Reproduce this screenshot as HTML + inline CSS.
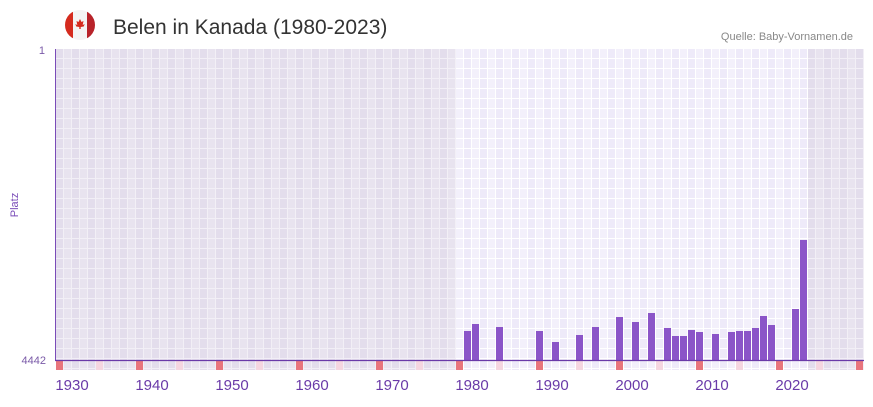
<!DOCTYPE html>
<html><head><meta charset="utf-8"><style>
body{margin:0;background:#fff;width:873px;height:402px;overflow:hidden;font-family:"Liberation Sans",sans-serif}
</style></head><body>
<svg width="873" height="402" xmlns="http://www.w3.org/2000/svg" font-family="Liberation Sans, sans-serif">
<defs>
<pattern id="pd" x="56" y="49" width="16" height="10" patternUnits="userSpaceOnUse">
<rect width="8" height="10" fill="#e3ddec"/><rect x="8" width="8" height="10" fill="#e8e3ef"/>
<rect x="7" width="1" height="10" fill="#f2eff6"/><rect x="15" width="1" height="10" fill="#f2eff6"/>
<rect y="9" width="16" height="1" fill="#f2eff6"/></pattern>
<pattern id="pl" x="56" y="49" width="16" height="10" patternUnits="userSpaceOnUse">
<rect width="8" height="10" fill="#f3f0fb"/><rect x="8" width="8" height="10" fill="#eeeaf9"/>
<rect x="7" width="1" height="10" fill="#fff"/><rect x="15" width="1" height="10" fill="#fff"/>
<rect y="9" width="16" height="1" fill="#fff"/></pattern>
<clipPath id="fc"><circle cx="80" cy="25" r="15"/></clipPath>
</defs>
<g clip-path="url(#fc)">
<rect x="65" y="10" width="30" height="30" fill="#f4f4f4"/>
<rect x="65" y="10" width="8" height="30" fill="#d52b1e"/>
<rect x="87" y="10" width="8" height="30" fill="#b8232a"/>
</g>
<path d="M80,19 l1.5,3 2,-1 -0.8,4 2,-1 -1,2.5 -3,0.5 v2 h-1.4 v-2 l-3,-0.5 -1,-2.5 2,1 -0.8,-4 2,1z" fill="#d52b1e"/>
<text x="113" y="34" font-size="21" fill="#333">Belen in Kanada (1980-2023)</text>
<text x="853" y="40" font-size="11" fill="#888" text-anchor="end">Quelle: Baby-Vornamen.de</text>
<rect x="56" y="49" width="808" height="321" fill="url(#pd)"/>
<rect x="456" y="49" width="352" height="321" fill="url(#pl)"/>
<g fill="#e8757d">
<rect x="56" y="361" width="7" height="9"/><rect x="136" y="361" width="7" height="9"/><rect x="216" y="361" width="7" height="9"/><rect x="296" y="361" width="7" height="9"/><rect x="376" y="361" width="7" height="9"/><rect x="456" y="361" width="7" height="9"/><rect x="536" y="361" width="7" height="9"/><rect x="616" y="361" width="7" height="9"/><rect x="696" y="361" width="7" height="9"/><rect x="776" y="361" width="7" height="9"/><rect x="856" y="361" width="7" height="9"/></g>
<g fill="#f5d6e0">
<rect x="96" y="361" width="7" height="9"/><rect x="176" y="361" width="7" height="9"/><rect x="256" y="361" width="7" height="9"/><rect x="336" y="361" width="7" height="9"/><rect x="416" y="361" width="7" height="9"/><rect x="496" y="361" width="7" height="9"/><rect x="576" y="361" width="7" height="9"/><rect x="656" y="361" width="7" height="9"/><rect x="736" y="361" width="7" height="9"/><rect x="816" y="361" width="7" height="9"/></g>
<g fill="#8b55c8">
<rect x="464" y="331" width="7" height="29"/><rect x="472" y="324" width="7" height="36"/><rect x="496" y="327" width="7" height="33"/><rect x="536" y="331" width="7" height="29"/><rect x="552" y="342" width="7" height="18"/><rect x="576" y="335" width="7" height="25"/><rect x="592" y="327" width="7" height="33"/><rect x="616" y="317" width="7" height="43"/><rect x="632" y="322" width="7" height="38"/><rect x="648" y="313" width="7" height="47"/><rect x="664" y="328" width="7" height="32"/><rect x="672" y="336" width="7" height="24"/><rect x="680" y="336" width="7" height="24"/><rect x="688" y="330" width="7" height="30"/><rect x="696" y="332" width="7" height="28"/><rect x="712" y="334" width="7" height="26"/><rect x="728" y="332" width="7" height="28"/><rect x="736" y="331" width="7" height="29"/><rect x="744" y="331" width="7" height="29"/><rect x="752" y="328" width="7" height="32"/><rect x="760" y="316" width="7" height="44"/><rect x="768" y="325" width="7" height="35"/><rect x="792" y="309" width="7" height="51"/><rect x="800" y="240" width="7" height="120"/></g>
<line x1="55.5" y1="49" x2="55.5" y2="360" stroke="#7a4cb8" stroke-width="1"/>
<line x1="55" y1="360.5" x2="864" y2="360.5" stroke="#6a3aa8" stroke-width="1.2"/>
<text x="45" y="54" font-size="11" fill="#7a5aa8" text-anchor="end">1</text>
<text x="46" y="364" font-size="11" fill="#7a5aa8" text-anchor="end">4442</text>
<text transform="translate(18,205) rotate(-90)" font-size="11" fill="#7a4cb8" text-anchor="middle">Platz</text>
<g font-size="15" fill="#6a3aa8" text-anchor="middle">
<text x="72" y="390">1930</text><text x="152" y="390">1940</text><text x="232" y="390">1950</text><text x="312" y="390">1960</text><text x="392" y="390">1970</text><text x="472" y="390">1980</text><text x="552" y="390">1990</text><text x="632" y="390">2000</text><text x="712" y="390">2010</text><text x="792" y="390">2020</text></g>
</svg>
</body></html>
